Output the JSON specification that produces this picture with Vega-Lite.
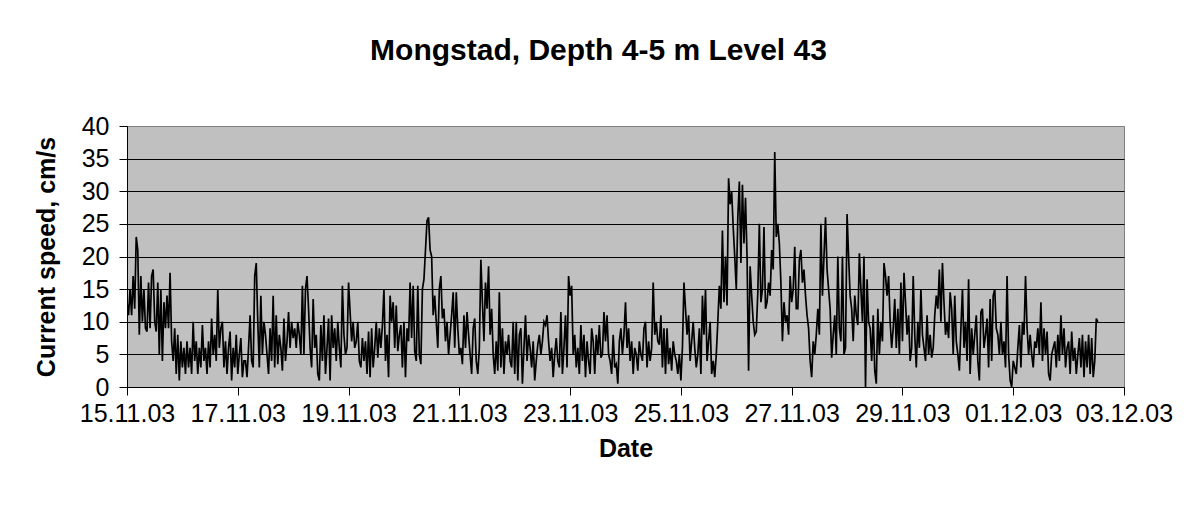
{
  "$schema": "https://vega.github.io/schema/vega-lite/v6.json",
  "width": 997,
  "height": 261,
  "autosize": {"type": "none"},
  "padding": {"left": 127, "top": 126, "right": 65, "bottom": 120},
  "background": "white",
  "config": {
    "view": {"fill": "#C0C0C0", "stroke": "#808080", "strokeWidth": 1},
    "font": "Liberation Sans"
  },
  "title": {
    "text": "Mongstad, Depth 4-5 m Level 43",
    "font": "Liberation Sans",
    "fontSize": 30,
    "fontWeight": "bold",
    "color": "black",
    "anchor": "middle",
    "frame": "group",
    "dx": -27,
    "baseline": "alphabetic",
    "offset": 24
  },
  "data": {
    "values": [
      {"t":"2003-11-15T00:00","v":13},{"t":"2003-11-15T00:40","v":11},{"t":"2003-11-15T01:20","v":15},{"t":"2003-11-15T02:00","v":11},{"t":"2003-11-15T02:40","v":17},{"t":"2003-11-15T03:20","v":12},{"t":"2003-11-15T04:00","v":23},{"t":"2003-11-15T04:40","v":21},{"t":"2003-11-15T05:20","v":8},{"t":"2003-11-15T06:00","v":17},{"t":"2003-11-15T06:40","v":10},{"t":"2003-11-15T07:20","v":15},{"t":"2003-11-15T08:00","v":9},{"t":"2003-11-15T08:40","v":8.5},{"t":"2003-11-15T09:20","v":16},{"t":"2003-11-15T10:00","v":9},{"t":"2003-11-15T10:40","v":17},{"t":"2003-11-15T11:20","v":18},{"t":"2003-11-15T12:00","v":10},{"t":"2003-11-15T12:40","v":8.5},{"t":"2003-11-15T13:20","v":16},{"t":"2003-11-15T14:00","v":5},{"t":"2003-11-15T14:40","v":15},{"t":"2003-11-15T15:20","v":4},{"t":"2003-11-15T16:00","v":13},{"t":"2003-11-15T16:40","v":9},{"t":"2003-11-15T17:20","v":14},{"t":"2003-11-15T18:00","v":9},{"t":"2003-11-15T18:40","v":17.5},{"t":"2003-11-15T19:20","v":7},{"t":"2003-11-15T20:00","v":4},{"t":"2003-11-15T20:40","v":9},{"t":"2003-11-15T21:20","v":2},{"t":"2003-11-15T22:00","v":8},{"t":"2003-11-15T22:40","v":1},{"t":"2003-11-15T23:20","v":7},
      {"t":"2003-11-16T00:00","v":3},{"t":"2003-11-16T00:40","v":6},{"t":"2003-11-16T01:20","v":2},{"t":"2003-11-16T02:00","v":7},{"t":"2003-11-16T02:40","v":3},{"t":"2003-11-16T03:20","v":6},{"t":"2003-11-16T04:00","v":2},{"t":"2003-11-16T04:40","v":10},{"t":"2003-11-16T05:20","v":4},{"t":"2003-11-16T06:00","v":7},{"t":"2003-11-16T06:40","v":2},{"t":"2003-11-16T07:20","v":6},{"t":"2003-11-16T08:00","v":3},{"t":"2003-11-16T08:40","v":9.5},{"t":"2003-11-16T09:20","v":4},{"t":"2003-11-16T10:00","v":6},{"t":"2003-11-16T10:40","v":2},{"t":"2003-11-16T11:20","v":7},{"t":"2003-11-16T12:00","v":3},{"t":"2003-11-16T12:40","v":10.5},{"t":"2003-11-16T13:20","v":5},{"t":"2003-11-16T14:00","v":8},{"t":"2003-11-16T14:40","v":4},{"t":"2003-11-16T15:20","v":15},{"t":"2003-11-16T16:00","v":6},{"t":"2003-11-16T16:40","v":9},{"t":"2003-11-16T17:20","v":10},{"t":"2003-11-16T18:00","v":3},{"t":"2003-11-16T18:40","v":7},{"t":"2003-11-16T19:20","v":2},{"t":"2003-11-16T20:00","v":6},{"t":"2003-11-16T20:40","v":8.5},{"t":"2003-11-16T21:20","v":1},{"t":"2003-11-16T22:00","v":6},{"t":"2003-11-16T22:40","v":3},{"t":"2003-11-16T23:20","v":8},
      {"t":"2003-11-17T00:00","v":2},{"t":"2003-11-17T00:40","v":5},{"t":"2003-11-17T01:20","v":7.5},{"t":"2003-11-17T02:00","v":1.5},{"t":"2003-11-17T02:40","v":4},{"t":"2003-11-17T03:20","v":4},{"t":"2003-11-17T04:00","v":1.5},{"t":"2003-11-17T04:40","v":6},{"t":"2003-11-17T05:20","v":11},{"t":"2003-11-17T06:00","v":4},{"t":"2003-11-17T06:40","v":3},{"t":"2003-11-17T07:20","v":17},{"t":"2003-11-17T08:00","v":19},{"t":"2003-11-17T08:40","v":10},{"t":"2003-11-17T09:20","v":3},{"t":"2003-11-17T10:00","v":14},{"t":"2003-11-17T10:40","v":5},{"t":"2003-11-17T11:20","v":10},{"t":"2003-11-17T12:00","v":8},{"t":"2003-11-17T12:40","v":5},{"t":"2003-11-17T13:20","v":2},{"t":"2003-11-17T14:00","v":9},{"t":"2003-11-17T14:40","v":4},{"t":"2003-11-17T15:20","v":14},{"t":"2003-11-17T16:00","v":3},{"t":"2003-11-17T16:40","v":11},{"t":"2003-11-17T17:20","v":3.5},{"t":"2003-11-17T18:00","v":8},{"t":"2003-11-17T18:40","v":6},{"t":"2003-11-17T19:20","v":2.5},{"t":"2003-11-17T20:00","v":10.5},{"t":"2003-11-17T20:40","v":4},{"t":"2003-11-17T21:20","v":7},{"t":"2003-11-17T22:00","v":11.5},{"t":"2003-11-17T22:40","v":6},{"t":"2003-11-17T23:20","v":10},
      {"t":"2003-11-18T00:00","v":7.5},{"t":"2003-11-18T00:40","v":9},{"t":"2003-11-18T01:20","v":6},{"t":"2003-11-18T02:00","v":10},{"t":"2003-11-18T02:40","v":8},{"t":"2003-11-18T03:20","v":5},{"t":"2003-11-18T04:00","v":15.5},{"t":"2003-11-18T04:40","v":5},{"t":"2003-11-18T05:20","v":15},{"t":"2003-11-18T06:00","v":17},{"t":"2003-11-18T06:40","v":12},{"t":"2003-11-18T07:20","v":6},{"t":"2003-11-18T08:00","v":3},{"t":"2003-11-18T08:40","v":13.5},{"t":"2003-11-18T09:20","v":6},{"t":"2003-11-18T10:00","v":8},{"t":"2003-11-18T10:40","v":2},{"t":"2003-11-18T11:20","v":1},{"t":"2003-11-18T12:00","v":9.5},{"t":"2003-11-18T12:40","v":4},{"t":"2003-11-18T13:20","v":11},{"t":"2003-11-18T14:00","v":2},{"t":"2003-11-18T14:40","v":6},{"t":"2003-11-18T15:20","v":10.5},{"t":"2003-11-18T16:00","v":1},{"t":"2003-11-18T16:40","v":11},{"t":"2003-11-18T17:20","v":6},{"t":"2003-11-18T18:00","v":9},{"t":"2003-11-18T18:40","v":4},{"t":"2003-11-18T19:20","v":10},{"t":"2003-11-18T20:00","v":6},{"t":"2003-11-18T20:40","v":3},{"t":"2003-11-18T21:20","v":15.5},{"t":"2003-11-18T22:00","v":8},{"t":"2003-11-18T22:40","v":5},{"t":"2003-11-18T23:20","v":6},
      {"t":"2003-11-19T00:00","v":16},{"t":"2003-11-19T00:40","v":11.5},{"t":"2003-11-19T01:20","v":7},{"t":"2003-11-19T02:00","v":10},{"t":"2003-11-19T02:40","v":6},{"t":"2003-11-19T03:20","v":7},{"t":"2003-11-19T04:00","v":10},{"t":"2003-11-19T04:40","v":4},{"t":"2003-11-19T05:20","v":3},{"t":"2003-11-19T06:00","v":7.5},{"t":"2003-11-19T06:40","v":4},{"t":"2003-11-19T07:20","v":7},{"t":"2003-11-19T08:00","v":2},{"t":"2003-11-19T08:40","v":8.5},{"t":"2003-11-19T09:20","v":1.5},{"t":"2003-11-19T10:00","v":9},{"t":"2003-11-19T10:40","v":3},{"t":"2003-11-19T11:20","v":6},{"t":"2003-11-19T12:00","v":10},{"t":"2003-11-19T12:40","v":4.5},{"t":"2003-11-19T13:20","v":9},{"t":"2003-11-19T14:00","v":6},{"t":"2003-11-19T14:40","v":9.5},{"t":"2003-11-19T15:20","v":15},{"t":"2003-11-19T16:00","v":4},{"t":"2003-11-19T16:40","v":8},{"t":"2003-11-19T17:20","v":1.5},{"t":"2003-11-19T18:00","v":14},{"t":"2003-11-19T18:40","v":10},{"t":"2003-11-19T19:20","v":13},{"t":"2003-11-19T20:00","v":6},{"t":"2003-11-19T20:40","v":12.5},{"t":"2003-11-19T21:20","v":5.5},{"t":"2003-11-19T22:00","v":8},{"t":"2003-11-19T22:40","v":9.5},{"t":"2003-11-19T23:20","v":3},
      {"t":"2003-11-20T00:00","v":10},{"t":"2003-11-20T00:40","v":1.5},{"t":"2003-11-20T01:20","v":9},{"t":"2003-11-20T02:00","v":7},{"t":"2003-11-20T02:40","v":16},{"t":"2003-11-20T03:20","v":7.5},{"t":"2003-11-20T04:00","v":15.5},{"t":"2003-11-20T04:40","v":5.5},{"t":"2003-11-20T05:20","v":4},{"t":"2003-11-20T06:00","v":15.5},{"t":"2003-11-20T06:40","v":5},{"t":"2003-11-20T07:20","v":3.5},{"t":"2003-11-20T08:00","v":15},{"t":"2003-11-20T08:40","v":16.5},{"t":"2003-11-20T09:20","v":21},{"t":"2003-11-20T10:00","v":25.5},{"t":"2003-11-20T10:40","v":26},{"t":"2003-11-20T11:20","v":21},{"t":"2003-11-20T12:00","v":20},{"t":"2003-11-20T12:40","v":11},{"t":"2003-11-20T13:20","v":14},{"t":"2003-11-20T14:00","v":10},{"t":"2003-11-20T14:40","v":6},{"t":"2003-11-20T15:20","v":15},{"t":"2003-11-20T16:00","v":17},{"t":"2003-11-20T16:40","v":10.5},{"t":"2003-11-20T17:20","v":12},{"t":"2003-11-20T18:00","v":7},{"t":"2003-11-20T18:40","v":10},{"t":"2003-11-20T19:20","v":5},{"t":"2003-11-20T20:00","v":8},{"t":"2003-11-20T20:40","v":11},{"t":"2003-11-20T21:20","v":14.5},{"t":"2003-11-20T22:00","v":6},{"t":"2003-11-20T22:40","v":14.5},{"t":"2003-11-20T23:20","v":9},
      {"t":"2003-11-21T00:00","v":5},{"t":"2003-11-21T00:40","v":6},{"t":"2003-11-21T01:20","v":3.5},{"t":"2003-11-21T02:00","v":11},{"t":"2003-11-21T02:40","v":6},{"t":"2003-11-21T03:20","v":11.5},{"t":"2003-11-21T04:00","v":8},{"t":"2003-11-21T04:40","v":5},{"t":"2003-11-21T05:20","v":2},{"t":"2003-11-21T06:00","v":9},{"t":"2003-11-21T06:40","v":10.5},{"t":"2003-11-21T07:20","v":4},{"t":"2003-11-21T08:00","v":2},{"t":"2003-11-21T08:40","v":6},{"t":"2003-11-21T09:20","v":19.5},{"t":"2003-11-21T10:00","v":13},{"t":"2003-11-21T10:40","v":7},{"t":"2003-11-21T11:20","v":16},{"t":"2003-11-21T12:00","v":12},{"t":"2003-11-21T12:40","v":18.5},{"t":"2003-11-21T13:20","v":8},{"t":"2003-11-21T14:00","v":12},{"t":"2003-11-21T14:40","v":5},{"t":"2003-11-21T15:20","v":2},{"t":"2003-11-21T16:00","v":7},{"t":"2003-11-21T16:40","v":2.5},{"t":"2003-11-21T17:20","v":14.5},{"t":"2003-11-21T18:00","v":3},{"t":"2003-11-21T18:40","v":9},{"t":"2003-11-21T19:20","v":2},{"t":"2003-11-21T20:00","v":7},{"t":"2003-11-21T20:40","v":5},{"t":"2003-11-21T21:20","v":8},{"t":"2003-11-21T22:00","v":4},{"t":"2003-11-21T22:40","v":3},{"t":"2003-11-21T23:20","v":10},
      {"t":"2003-11-22T00:00","v":2},{"t":"2003-11-22T00:40","v":10},{"t":"2003-11-22T01:20","v":1},{"t":"2003-11-22T02:00","v":8},{"t":"2003-11-22T02:40","v":9},{"t":"2003-11-22T03:20","v":0.5},{"t":"2003-11-22T04:00","v":6},{"t":"2003-11-22T04:40","v":11},{"t":"2003-11-22T05:20","v":4},{"t":"2003-11-22T06:00","v":8},{"t":"2003-11-22T06:40","v":6},{"t":"2003-11-22T07:20","v":3},{"t":"2003-11-22T08:00","v":7},{"t":"2003-11-22T08:40","v":1},{"t":"2003-11-22T09:20","v":4},{"t":"2003-11-22T10:00","v":6.5},{"t":"2003-11-22T10:40","v":8},{"t":"2003-11-22T11:20","v":5},{"t":"2003-11-22T12:00","v":7},{"t":"2003-11-22T12:40","v":10},{"t":"2003-11-22T13:20","v":9.5},{"t":"2003-11-22T14:00","v":11},{"t":"2003-11-22T14:40","v":7},{"t":"2003-11-22T15:20","v":4},{"t":"2003-11-22T16:00","v":6},{"t":"2003-11-22T16:40","v":1.5},{"t":"2003-11-22T17:20","v":5},{"t":"2003-11-22T18:00","v":7.5},{"t":"2003-11-22T18:40","v":4},{"t":"2003-11-22T19:20","v":3},{"t":"2003-11-22T20:00","v":11.5},{"t":"2003-11-22T20:40","v":2},{"t":"2003-11-22T21:20","v":6},{"t":"2003-11-22T22:00","v":11},{"t":"2003-11-22T22:40","v":3},{"t":"2003-11-22T23:20","v":17},
      {"t":"2003-11-23T00:00","v":14},{"t":"2003-11-23T00:40","v":15.5},{"t":"2003-11-23T01:20","v":5},{"t":"2003-11-23T02:00","v":8},{"t":"2003-11-23T02:40","v":3},{"t":"2003-11-23T03:20","v":6},{"t":"2003-11-23T04:00","v":2},{"t":"2003-11-23T04:40","v":9.5},{"t":"2003-11-23T05:20","v":4},{"t":"2003-11-23T06:00","v":8},{"t":"2003-11-23T06:40","v":1.5},{"t":"2003-11-23T07:20","v":7},{"t":"2003-11-23T08:00","v":4},{"t":"2003-11-23T08:40","v":2},{"t":"2003-11-23T09:20","v":9},{"t":"2003-11-23T10:00","v":7},{"t":"2003-11-23T10:40","v":2},{"t":"2003-11-23T11:20","v":8},{"t":"2003-11-23T12:00","v":5},{"t":"2003-11-23T12:40","v":9.5},{"t":"2003-11-23T13:20","v":4.5},{"t":"2003-11-23T14:00","v":5},{"t":"2003-11-23T14:40","v":11.5},{"t":"2003-11-23T15:20","v":7},{"t":"2003-11-23T16:00","v":11},{"t":"2003-11-23T16:40","v":5},{"t":"2003-11-23T17:20","v":4},{"t":"2003-11-23T18:00","v":2},{"t":"2003-11-23T18:40","v":8},{"t":"2003-11-23T19:20","v":3},{"t":"2003-11-23T20:00","v":3.5},{"t":"2003-11-23T20:40","v":0.5},{"t":"2003-11-23T21:20","v":7},{"t":"2003-11-23T22:00","v":9},{"t":"2003-11-23T22:40","v":5},{"t":"2003-11-23T23:20","v":8},
      {"t":"2003-11-24T00:00","v":13},{"t":"2003-11-24T00:40","v":6},{"t":"2003-11-24T01:20","v":9},{"t":"2003-11-24T02:00","v":4},{"t":"2003-11-24T02:40","v":7},{"t":"2003-11-24T03:20","v":2},{"t":"2003-11-24T04:00","v":6},{"t":"2003-11-24T04:40","v":5},{"t":"2003-11-24T05:20","v":2.5},{"t":"2003-11-24T06:00","v":7},{"t":"2003-11-24T06:40","v":5},{"t":"2003-11-24T07:20","v":4},{"t":"2003-11-24T08:00","v":9},{"t":"2003-11-24T08:40","v":10},{"t":"2003-11-24T09:20","v":3},{"t":"2003-11-24T10:00","v":7},{"t":"2003-11-24T10:40","v":4},{"t":"2003-11-24T11:20","v":6},{"t":"2003-11-24T12:00","v":16},{"t":"2003-11-24T12:40","v":8},{"t":"2003-11-24T13:20","v":10},{"t":"2003-11-24T14:00","v":7},{"t":"2003-11-24T14:40","v":6.5},{"t":"2003-11-24T15:20","v":11},{"t":"2003-11-24T16:00","v":3},{"t":"2003-11-24T16:40","v":9},{"t":"2003-11-24T17:20","v":2},{"t":"2003-11-24T18:00","v":9},{"t":"2003-11-24T18:40","v":3.5},{"t":"2003-11-24T19:20","v":6},{"t":"2003-11-24T20:00","v":2.5},{"t":"2003-11-24T20:40","v":7},{"t":"2003-11-24T21:20","v":5},{"t":"2003-11-24T22:00","v":4},{"t":"2003-11-24T22:40","v":2},{"t":"2003-11-24T23:20","v":5},
      {"t":"2003-11-25T00:00","v":1},{"t":"2003-11-25T00:40","v":6},{"t":"2003-11-25T01:20","v":16},{"t":"2003-11-25T02:00","v":12},{"t":"2003-11-25T02:40","v":8},{"t":"2003-11-25T03:20","v":11},{"t":"2003-11-25T04:00","v":4},{"t":"2003-11-25T04:40","v":7},{"t":"2003-11-25T05:20","v":10},{"t":"2003-11-25T06:00","v":6},{"t":"2003-11-25T06:40","v":3},{"t":"2003-11-25T07:20","v":5},{"t":"2003-11-25T08:00","v":9},{"t":"2003-11-25T08:40","v":2},{"t":"2003-11-25T09:20","v":14},{"t":"2003-11-25T10:00","v":8},{"t":"2003-11-25T10:40","v":15},{"t":"2003-11-25T11:20","v":4},{"t":"2003-11-25T12:00","v":7},{"t":"2003-11-25T12:40","v":10},{"t":"2003-11-25T13:20","v":2},{"t":"2003-11-25T14:00","v":4},{"t":"2003-11-25T14:40","v":1.5},{"t":"2003-11-25T15:20","v":5},{"t":"2003-11-25T16:00","v":10},{"t":"2003-11-25T16:40","v":15.5},{"t":"2003-11-25T17:20","v":12},{"t":"2003-11-25T18:00","v":24},{"t":"2003-11-25T18:40","v":13},{"t":"2003-11-25T19:20","v":20},{"t":"2003-11-25T20:00","v":12.5},{"t":"2003-11-25T20:40","v":32},{"t":"2003-11-25T21:20","v":28},{"t":"2003-11-25T22:00","v":30},{"t":"2003-11-25T22:40","v":24.5},{"t":"2003-11-25T23:20","v":20},
      {"t":"2003-11-26T00:00","v":15},{"t":"2003-11-26T00:40","v":26},{"t":"2003-11-26T01:20","v":31.5},{"t":"2003-11-26T02:00","v":19},{"t":"2003-11-26T02:40","v":31},{"t":"2003-11-26T03:20","v":22},{"t":"2003-11-26T04:00","v":29},{"t":"2003-11-26T04:40","v":20},{"t":"2003-11-26T05:20","v":2.5},{"t":"2003-11-26T06:00","v":18.5},{"t":"2003-11-26T06:40","v":14},{"t":"2003-11-26T07:20","v":10},{"t":"2003-11-26T08:00","v":8},{"t":"2003-11-26T08:40","v":8.5},{"t":"2003-11-26T09:20","v":14.5},{"t":"2003-11-26T10:00","v":25},{"t":"2003-11-26T10:40","v":13},{"t":"2003-11-26T11:20","v":15},{"t":"2003-11-26T12:00","v":24.5},{"t":"2003-11-26T12:40","v":12},{"t":"2003-11-26T13:20","v":13},{"t":"2003-11-26T14:00","v":16},{"t":"2003-11-26T14:40","v":14},{"t":"2003-11-26T15:20","v":21},{"t":"2003-11-26T16:00","v":18},{"t":"2003-11-26T16:40","v":36},{"t":"2003-11-26T17:20","v":23},{"t":"2003-11-26T18:00","v":25},{"t":"2003-11-26T18:40","v":22},{"t":"2003-11-26T19:20","v":16},{"t":"2003-11-26T20:00","v":7},{"t":"2003-11-26T20:40","v":13},{"t":"2003-11-26T21:20","v":10},{"t":"2003-11-26T22:00","v":11},{"t":"2003-11-26T22:40","v":8},{"t":"2003-11-26T23:20","v":17},
      {"t":"2003-11-27T00:00","v":13},{"t":"2003-11-27T00:40","v":15},{"t":"2003-11-27T01:20","v":21.5},{"t":"2003-11-27T02:00","v":12},{"t":"2003-11-27T02:40","v":12},{"t":"2003-11-27T03:20","v":19.5},{"t":"2003-11-27T04:00","v":21},{"t":"2003-11-27T04:40","v":16},{"t":"2003-11-27T05:20","v":18},{"t":"2003-11-27T06:00","v":14},{"t":"2003-11-27T06:40","v":11},{"t":"2003-11-27T07:20","v":9},{"t":"2003-11-27T08:00","v":4},{"t":"2003-11-27T08:40","v":1.5},{"t":"2003-11-27T09:20","v":7},{"t":"2003-11-27T10:00","v":5},{"t":"2003-11-27T10:40","v":8},{"t":"2003-11-27T11:20","v":12},{"t":"2003-11-27T12:00","v":8},{"t":"2003-11-27T12:40","v":25},{"t":"2003-11-27T13:20","v":14},{"t":"2003-11-27T14:00","v":20},{"t":"2003-11-27T14:40","v":26},{"t":"2003-11-27T15:20","v":18},{"t":"2003-11-27T16:00","v":15},{"t":"2003-11-27T16:40","v":12},{"t":"2003-11-27T17:20","v":4.5},{"t":"2003-11-27T18:00","v":8},{"t":"2003-11-27T18:40","v":11},{"t":"2003-11-27T19:20","v":5},{"t":"2003-11-27T20:00","v":20},{"t":"2003-11-27T20:40","v":9},{"t":"2003-11-27T21:20","v":7},{"t":"2003-11-27T22:00","v":20},{"t":"2003-11-27T22:40","v":5},{"t":"2003-11-27T23:20","v":6},
      {"t":"2003-11-28T00:00","v":26.5},{"t":"2003-11-28T00:40","v":20},{"t":"2003-11-28T01:20","v":14},{"t":"2003-11-28T02:00","v":12},{"t":"2003-11-28T02:40","v":7},{"t":"2003-11-28T03:20","v":14},{"t":"2003-11-28T04:00","v":11},{"t":"2003-11-28T04:40","v":9.5},{"t":"2003-11-28T05:20","v":20.5},{"t":"2003-11-28T06:00","v":15},{"t":"2003-11-28T06:40","v":10},{"t":"2003-11-28T07:20","v":20},{"t":"2003-11-28T08:00","v":0},{"t":"2003-11-28T08:40","v":16.5},{"t":"2003-11-28T09:20","v":10},{"t":"2003-11-28T10:00","v":9},{"t":"2003-11-28T10:40","v":4},{"t":"2003-11-28T11:20","v":11},{"t":"2003-11-28T12:00","v":2.5},{"t":"2003-11-28T12:40","v":0.5},{"t":"2003-11-28T13:20","v":12},{"t":"2003-11-28T14:00","v":5},{"t":"2003-11-28T14:40","v":10},{"t":"2003-11-28T15:20","v":7},{"t":"2003-11-28T16:00","v":19},{"t":"2003-11-28T16:40","v":17},{"t":"2003-11-28T17:20","v":14},{"t":"2003-11-28T18:00","v":17},{"t":"2003-11-28T18:40","v":10},{"t":"2003-11-28T19:20","v":6},{"t":"2003-11-28T20:00","v":9},{"t":"2003-11-28T20:40","v":13.5},{"t":"2003-11-28T21:20","v":6},{"t":"2003-11-28T22:00","v":12},{"t":"2003-11-28T22:40","v":5},{"t":"2003-11-28T23:20","v":16},
      {"t":"2003-11-29T00:00","v":7},{"t":"2003-11-29T00:40","v":17.5},{"t":"2003-11-29T01:20","v":13},{"t":"2003-11-29T02:00","v":8},{"t":"2003-11-29T02:40","v":11},{"t":"2003-11-29T03:20","v":4},{"t":"2003-11-29T04:00","v":6},{"t":"2003-11-29T04:40","v":17},{"t":"2003-11-29T05:20","v":8},{"t":"2003-11-29T06:00","v":3},{"t":"2003-11-29T06:40","v":10},{"t":"2003-11-29T07:20","v":6},{"t":"2003-11-29T08:00","v":15},{"t":"2003-11-29T08:40","v":8},{"t":"2003-11-29T09:20","v":6},{"t":"2003-11-29T10:00","v":4},{"t":"2003-11-29T10:40","v":11},{"t":"2003-11-29T11:20","v":5},{"t":"2003-11-29T12:00","v":8},{"t":"2003-11-29T12:40","v":4.5},{"t":"2003-11-29T13:20","v":6},{"t":"2003-11-29T14:00","v":11},{"t":"2003-11-29T14:40","v":14},{"t":"2003-11-29T15:20","v":12},{"t":"2003-11-29T16:00","v":18},{"t":"2003-11-29T16:40","v":10},{"t":"2003-11-29T17:20","v":19},{"t":"2003-11-29T18:00","v":13},{"t":"2003-11-29T18:40","v":8},{"t":"2003-11-29T19:20","v":10},{"t":"2003-11-29T20:00","v":7.5},{"t":"2003-11-29T20:40","v":14.5},{"t":"2003-11-29T21:20","v":12},{"t":"2003-11-29T22:00","v":5},{"t":"2003-11-29T22:40","v":14},{"t":"2003-11-29T23:20","v":7},
      {"t":"2003-11-30T00:00","v":5},{"t":"2003-11-30T00:40","v":2.5},{"t":"2003-11-30T01:20","v":9},{"t":"2003-11-30T02:00","v":15},{"t":"2003-11-30T02:40","v":6},{"t":"2003-11-30T03:20","v":10},{"t":"2003-11-30T04:00","v":4},{"t":"2003-11-30T04:40","v":16.5},{"t":"2003-11-30T05:20","v":2},{"t":"2003-11-30T06:00","v":9},{"t":"2003-11-30T06:40","v":5},{"t":"2003-11-30T07:20","v":8},{"t":"2003-11-30T08:00","v":11},{"t":"2003-11-30T08:40","v":4},{"t":"2003-11-30T09:20","v":1},{"t":"2003-11-30T10:00","v":11.5},{"t":"2003-11-30T10:40","v":12},{"t":"2003-11-30T11:20","v":6},{"t":"2003-11-30T12:00","v":8},{"t":"2003-11-30T12:40","v":10.5},{"t":"2003-11-30T13:20","v":3},{"t":"2003-11-30T14:00","v":13.5},{"t":"2003-11-30T14:40","v":4},{"t":"2003-11-30T15:20","v":14},{"t":"2003-11-30T16:00","v":15},{"t":"2003-11-30T16:40","v":9},{"t":"2003-11-30T17:20","v":8},{"t":"2003-11-30T18:00","v":5},{"t":"2003-11-30T18:40","v":10},{"t":"2003-11-30T19:20","v":5},{"t":"2003-11-30T20:00","v":7},{"t":"2003-11-30T20:40","v":3},{"t":"2003-11-30T21:20","v":17},{"t":"2003-11-30T22:00","v":5},{"t":"2003-11-30T22:40","v":1},{"t":"2003-11-30T23:20","v":0},
      {"t":"2003-12-01T00:00","v":4},{"t":"2003-12-01T00:40","v":3},{"t":"2003-12-01T01:20","v":2},{"t":"2003-12-01T02:00","v":6},{"t":"2003-12-01T02:40","v":9.5},{"t":"2003-12-01T03:20","v":3},{"t":"2003-12-01T04:00","v":10},{"t":"2003-12-01T04:40","v":8},{"t":"2003-12-01T05:20","v":17},{"t":"2003-12-01T06:00","v":9},{"t":"2003-12-01T06:40","v":5},{"t":"2003-12-01T07:20","v":8},{"t":"2003-12-01T08:00","v":5},{"t":"2003-12-01T08:40","v":3},{"t":"2003-12-01T09:20","v":7},{"t":"2003-12-01T10:00","v":6},{"t":"2003-12-01T10:40","v":9},{"t":"2003-12-01T11:20","v":5},{"t":"2003-12-01T12:00","v":13},{"t":"2003-12-01T12:40","v":4},{"t":"2003-12-01T13:20","v":9},{"t":"2003-12-01T14:00","v":5},{"t":"2003-12-01T14:40","v":8.5},{"t":"2003-12-01T15:20","v":2},{"t":"2003-12-01T16:00","v":1},{"t":"2003-12-01T16:40","v":5},{"t":"2003-12-01T17:20","v":6},{"t":"2003-12-01T18:00","v":7},{"t":"2003-12-01T18:40","v":3},{"t":"2003-12-01T19:20","v":8},{"t":"2003-12-01T20:00","v":4},{"t":"2003-12-01T20:40","v":11},{"t":"2003-12-01T21:20","v":5},{"t":"2003-12-01T22:00","v":9},{"t":"2003-12-01T22:40","v":3},{"t":"2003-12-01T23:20","v":6},
      {"t":"2003-12-02T00:00","v":7},{"t":"2003-12-02T00:40","v":2},{"t":"2003-12-02T01:20","v":8.5},{"t":"2003-12-02T02:00","v":4},{"t":"2003-12-02T02:40","v":6},{"t":"2003-12-02T03:20","v":2},{"t":"2003-12-02T04:00","v":5},{"t":"2003-12-02T04:40","v":7.5},{"t":"2003-12-02T05:20","v":3},{"t":"2003-12-02T06:00","v":8},{"t":"2003-12-02T06:40","v":1.5},{"t":"2003-12-02T07:20","v":7},{"t":"2003-12-02T08:00","v":3},{"t":"2003-12-02T08:40","v":8},{"t":"2003-12-02T09:20","v":2},{"t":"2003-12-02T10:00","v":7.5},{"t":"2003-12-02T10:40","v":1.5},{"t":"2003-12-02T11:20","v":4},{"t":"2003-12-02T12:00","v":10.5},{"t":"2003-12-02T12:40","v":10}
    ]
  },
  "mark": {"type": "line", "color": "black", "strokeWidth": 1.7, "clip": true},
  "encoding": {
    "x": {
      "field": "t",
      "type": "temporal",
      "scale": {"domain": [{"year": 2003, "month": 11, "date": 15}, {"year": 2003, "month": 12, "date": 3}]},
      "axis": {
        "values": [
          {"year": 2003, "month": 11, "date": 15},
          {"year": 2003, "month": 11, "date": 17},
          {"year": 2003, "month": 11, "date": 19},
          {"year": 2003, "month": 11, "date": 21},
          {"year": 2003, "month": 11, "date": 23},
          {"year": 2003, "month": 11, "date": 25},
          {"year": 2003, "month": 11, "date": 27},
          {"year": 2003, "month": 11, "date": 29},
          {"year": 2003, "month": 12, "date": 1},
          {"year": 2003, "month": 12, "date": 3}
        ],
        "format": "%d.%m.%y",
        "title": "Date",
        "grid": false,
        "domainColor": "black",
        "domainWidth": 1,
        "tickColor": "black",
        "tickSize": 8,
        "labelFont": "Liberation Sans",
        "labelFontSize": 25,
        "labelColor": "black",
        "labelPadding": 6,
        "labelFlush": false,
        "labelOverlap": false,
        "titleFont": "Liberation Sans",
        "titleFontSize": 25,
        "titleFontWeight": "bold",
        "titleColor": "black",
        "titlePadding": 10
      }
    },
    "y": {
      "field": "v",
      "type": "quantitative",
      "scale": {"domain": [0, 40], "nice": false},
      "axis": {
        "values": [0, 5, 10, 15, 20, 25, 30, 35, 40],
        "title": "Current  speed, cm/s",
        "grid": true,
        "gridColor": {"condition": {"test": "datum.value >= 40 || datum.value <= 0", "value": "#808080"}, "value": "black"},
        "gridWidth": 1,
        "domainColor": "black",
        "domainWidth": 1,
        "tickColor": "black",
        "tickSize": 8,
        "labelFont": "Liberation Sans",
        "labelFontSize": 25,
        "labelColor": "black",
        "labelPadding": 10,
        "labelFlush": false,
        "labelOverlap": false,
        "titleFont": "Liberation Sans",
        "titleFontSize": 25,
        "titleFontWeight": "bold",
        "titleColor": "black",
        "titlePadding": 22
      }
    }
  }
}
